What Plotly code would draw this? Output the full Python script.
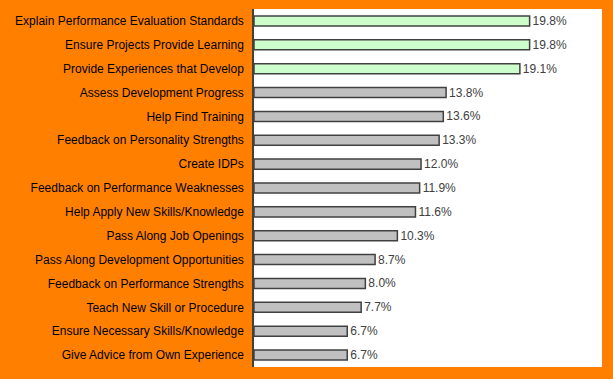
import plotly.graph_objects as go

categories = [
    "Explain Performance Evaluation Standards",
    "Ensure Projects Provide Learning",
    "Provide Experiences that Develop",
    "Assess Development Progress",
    "Help Find Training",
    "Feedback on Personality Strengths",
    "Create IDPs",
    "Feedback on Performance Weaknesses",
    "Help Apply New Skills/Knowledge",
    "Pass Along Job Openings",
    "Pass Along Development Opportunities",
    "Feedback on Performance Strengths",
    "Teach New Skill or Procedure",
    "Ensure Necessary Skills/Knowledge",
    "Give Advice from Own Experience",
]
values = [19.8, 19.8, 19.1, 13.8, 13.6, 13.3, 12.0, 11.9, 11.6, 10.3, 8.7, 8.0, 7.7, 6.7, 6.7]
highlighted = [True, True, True] + [False] * 12

colors = ["#CCFFCC" if h else "#C0C0C0" for h in highlighted]
labels = [f"{v:.1f}%" for v in values]

fig = go.Figure(go.Bar(
    y=categories, x=values, orientation="h",
    marker=dict(color=colors, line=dict(color="#404040", width=1.5)),
    width=0.42,
    text=labels, textposition="outside", cliponaxis=False, constraintext="none",
    textfont=dict(family="Liberation Sans, Arial", size=12, color="#404040"),
    hoverinfo="skip",
))

fig.update_layout(
    width=613, height=379,
    margin=dict(l=254, r=11, t=9, b=12, autoexpand=False),
    paper_bgcolor="#FF8000", plot_bgcolor="#FFFFFF",
    showlegend=False,
    font=dict(family="Liberation Sans, Arial", size=12, color="#000000"),
    xaxis=dict(range=[0, 25], showgrid=False, zeroline=False, showticklabels=False,
               ticks="", automargin=False),
    yaxis=dict(type="category", categoryorder="array", categoryarray=categories,
               autorange="reversed", showgrid=False, zeroline=False,
               showline=True, linecolor="#404040", linewidth=1.5,
               ticks="", ticklabelstandoff=6, automargin=False,
               tickfont=dict(family="Liberation Sans, Arial", size=12, color="#000000")),
)

fig.write_html("out.html", config={"displayModeBar": False},
               post_script="document.body.style.margin='0';document.body.style.overflow='hidden';")
